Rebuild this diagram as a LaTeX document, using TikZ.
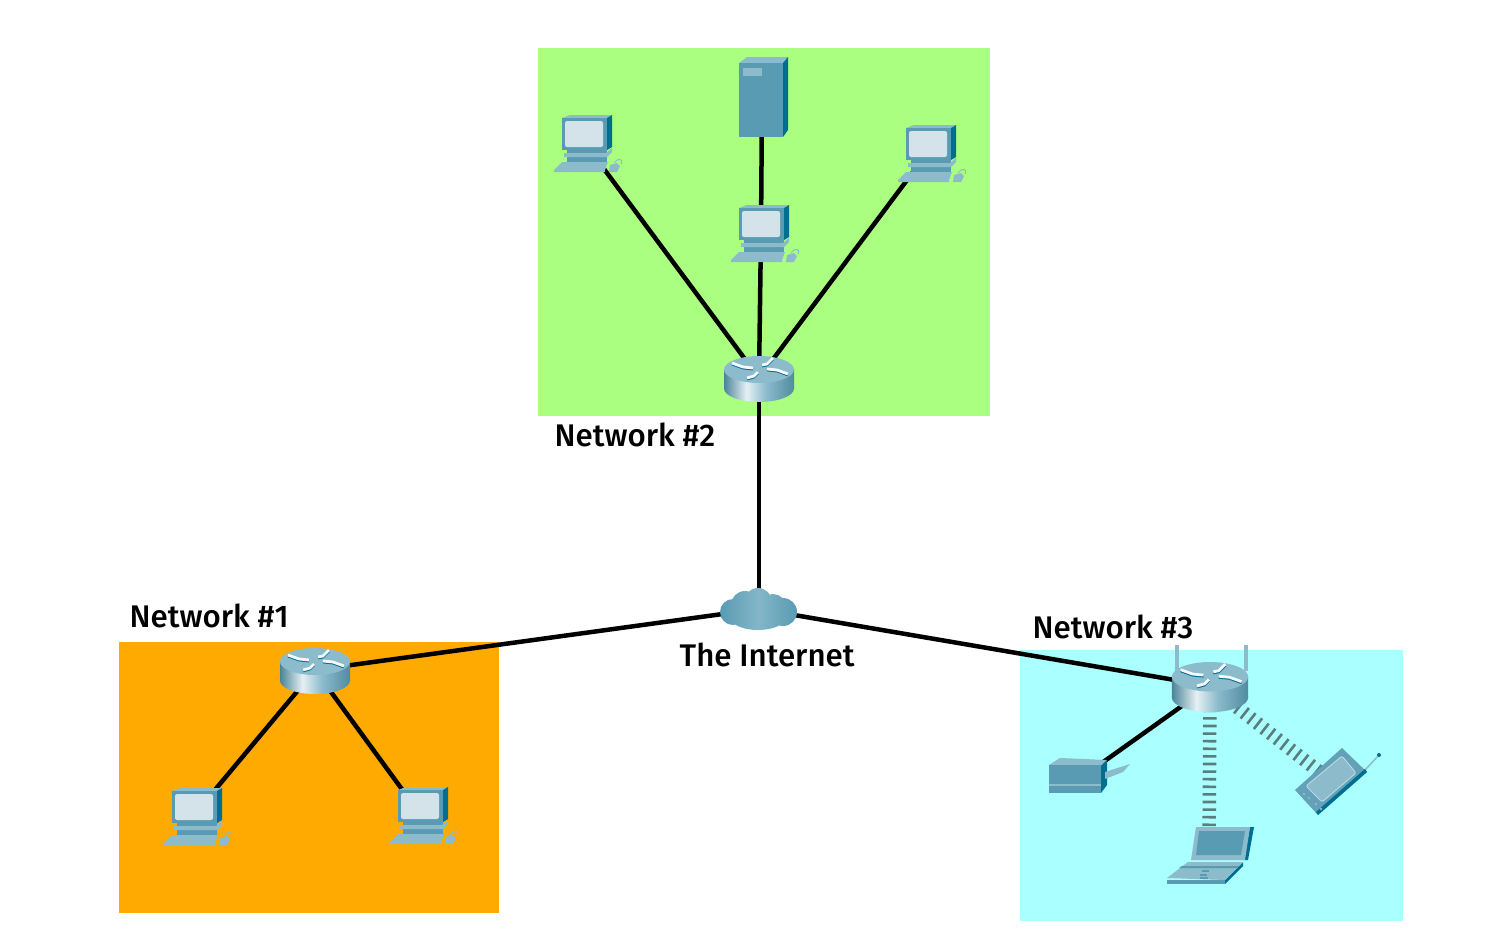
\documentclass[tikz,border=0pt]{standalone}
\usepackage{fontspec}
\setmainfont{Fira Sans}[BoldFont={Fira Sans Medium}]
\usepackage{xcolor}
\usetikzlibrary{positioning}
\definecolor{netgreen}{RGB}{170,255,128}
\definecolor{netorange}{RGB}{255,170,0}
\definecolor{netcyan}{RGB}{170,255,255}
\definecolor{devface}{RGB}{88,155,178}
\definecolor{devdark}{RGB}{0,110,145}
\definecolor{devlight}{RGB}{140,187,204}
\definecolor{devscreen}{RGB}{212,227,234}
\definecolor{radiogray}{RGB}{90,125,125}
\pgfdeclarehorizontalshading{routerside}{100bp}{color(0bp)=(devface); color(25bp)=(devface!85!black); color(41bp)=(white!85!devface); color(55bp)=(devlight); color(75bp)=(devface!90!black); color(100bp)=(devface)}
\pgfdeclarehorizontalshading{cloudside}{100bp}{color(0bp)=(devface); color(25bp)=(devface); color(50bp)=(devlight!85!devface); color(75bp)=(devface); color(100bp)=(devface)}
\tikzset{
  pcicon/.pic={
    \fill[devface] (-17,8) rectangle (23,21);
    \fill[devlight] (-22,-24) -- (-14,-27) -- (28,-27) -- (23,-24) -- cycle;
    \fill[devdark] (23,-24) -- (28,-27) -- (28,5) -- (23,8) -- cycle;
    \fill[devface] (-22,-24) rectangle (23,8);
    \fill[devscreen, rounded corners=0.6] (-19,-21) rectangle (19,5);
    \fill[devlight] (-20,11) -- (22,11) -- (28,6) -- (28,10) -- (23,15) -- (-20,15) -- cycle;
    \fill[devlight] (-22,20) -- (24,20) -- (21,28) -- (21,30) -- (-30,30) -- (-30,28) -- cycle;
    \fill[devlight] (26,23) -- (33,21) -- (36,24) -- (33,30) -- (25,30) -- cycle;
    \draw[devlight, line width=0.1mm] (30,21) .. controls (33,16) and (40,16) .. (37,22);
  },
  servericon/.pic={
    \fill[devlight] (-23,-37) -- (-15,-43) -- (26,-43) -- (21,-37) -- cycle;
    \fill[devdark] (21,-37) -- (26,-43) -- (26,30) -- (21,37) -- cycle;
    \fill[devface] (-23,-37) rectangle (21,37);
    \fill[devlight] (-19,-32) rectangle (0,-24);
  },
  routericon/.pic={
    \shade[shading=routerside] (-35,-8.5) rectangle (35,10.5);
    \shade[shading=routerside] (0,10.5) ellipse [x radius=35, y radius=13.5];
    \fill[devlight] (0,-8.5) ellipse [x radius=35, y radius=13.5];
    \foreach \ax/\ay/\mx/\my/\bx/\by in {-27/-15/-16/-11/-6/-10, 3/-13/8/-14/14/-20, 8/-9/18/-8/29/-4, -1/-6/-5/-2/-12/0} {
      \draw[devdark, line width=0.28mm] (\ax,\ay+1) -- (\mx,\my+1) -- (\bx,\by+1);
      \draw[white!90!devlight, line width=0.28mm] (\ax,\ay) -- (\mx,\my) -- (\bx,\by);
    }
  },
  mastpair/.pic={
    \foreach \mx in {-33,36}
      \draw[devlight, line width=0.35mm] (\mx,-41) -- (\mx,-15);
  },
  cloudicon/.pic={
    \shade[shading=cloudside] (-26,3) circle (13) (-14,-4) circle (14) (-1,-7) circle (14)
      (14,-2) circle (13) (24,3) circle (14) (-1,8) ellipse [x radius=28, y radius=13];
  },
  switchicon/.pic={
    \fill[devlight] (-29,-15) -- (-18,-22) -- (29,-20) -- (23,-14) -- cycle;
    \fill[devdark] (23,-14) -- (29,-20) -- (29,5) -- (23,13) -- cycle;
    \fill[devface] (-29,-15) rectangle (23,13);
    \fill[devlight] (-29,4) rectangle (23,6);
    \fill[devlight] (27,-8) -- (52,-16) -- (45,-8) -- (27,-1) -- cycle;
  },
  laptopicon/.pic={
    \fill[devdark] (41,-29) -- (45,-29) -- (39,4) -- (35,4) -- cycle;
    \fill[devlight] (-13,-29) -- (41,-29) -- (36,4) -- (-18,4) -- cycle;
    \fill[devface] (-10,-25) -- (36,-25) -- (32,-1) -- (-13,-1) -- cycle;
    \fill[devdark] (16,24) -- (34,6) -- (34,10) -- (16,28) -- cycle;
    \fill[devlight] (-42,22) -- (-21,6) -- (34,6) -- (16,24) -- cycle;
    \fill[devface] (-42,24) rectangle (16,28);
    \fill[devface] (-27,10) -- (30,10) -- (28,12) -- (-30,12) -- cycle;
    \draw[devface, line width=0.15mm] (-7,15) -- (0,15) (-9,19) -- (-2,19) (-9,22) -- (-1,22);
  },
  phoneicon/.pic={
    \draw[devlight, line width=0.15mm] (34,-11) -- (48,-26);
    \fill[devdark] (48,-26) circle (2);
    \fill[devface!80!devlight] (-36,9) -- (11,-33) -- (36,-9) -- (-13,34) -- cycle;
    \fill[devdark] (-13,34) -- (36,-9) -- (34,-12) -- (-15,31) -- cycle;
    \fill[devlight, draw=devlight!60!white, line width=0.1mm, rounded corners=0.6]
      (-25,5) -- (11,-25) -- (25,-8) -- (-9,21) -- cycle;
    \foreach \dx/\dy in {-27/13,-22/17,-15/23,-10/28}
      \fill[devlight] (\dx,\dy) circle (1.3);
  }
}
\begin{document}
\begin{tikzpicture}[
  x=0.1mm, y=-0.1mm,
  every node/.style={font=\fontsize{8.9}{11}\selectfont\bfseries, text=black},
  netarea/.style={fill=#1, draw=none},
  devspot/.style={inner sep=0pt, minimum size=0pt},
  netlabel/.style={anchor=base west, inner sep=0pt},
  wire/.style={line width=0.45mm, black},
  radio/.style={line width=1.35mm, radiogray, dash pattern=on 0.26mm off #1}
]
\useasboundingbox (0,0) rectangle (1487,937);
% coloured network areas
\fill[netarea=netgreen]  (538,48) rectangle (990,416);
\fill[netarea=netorange] (119,642) rectangle (499,913);
\fill[netarea=netcyan]   (1020,650) rectangle (1403,921);
% devices
\node[devspot] (inet)   at (759,609) {};
\node[devspot] (router1) at (315,670) {};
\node[devspot] (router2) at (759,378) {};
\node[devspot] (router3) at (1210,686) {};
\node[devspot] (pca)    at (194,815) {};
\node[devspot] (pcb)    at (420,814) {};
\node[devspot] (pcc)    at (584,142) {};
\node[devspot] (pcd)    at (761,232) {};
\node[devspot] (pce)    at (928,152) {};
\node[devspot] (server) at (762,100) {};
\node[devspot] (switch) at (1078,780) {};
\node[devspot] (laptop) at (1209,856) {};
\node[devspot] (phone)  at (1331,781) {};
% labels
\node[netlabel] (lab1) at (129,627) {Network \#1};
\node[netlabel] (lab2) at (554,446) {Network \#2};
\node[netlabel] (lab3) at (1032,638) {Network \#3};
\node[netlabel] (labinet) at (679,666) {The Internet};
% links
\foreach \from/\to in {inet/router1, inet/router2, inet/router3, router1/pca, router1/pcb,
    router2/pcc, router2/pcd, router2/pce, pcd/server, router3/switch}
  \draw[wire] (\from) -- (\to);
\foreach \to/\gap in {laptop/0.5mm, phone/0.58mm}
  \draw[radio=\gap] (router3) -- (\to);
% icons go on top of the links
\foreach \p in {pca, pcb, pcc, pcd, pce}
  \pic at (\p) {pcicon};
\pic at (server) {servericon};
\pic at (inet) {cloudicon};
\pic at (router1) {routericon};
\pic at (router2) {routericon};
\pic at (router3) {mastpair};
\pic[scale=1.09] at (router3) {routericon};
\pic at (switch) {switchicon};
\pic at (laptop) {laptopicon};
\pic at (phone) {phoneicon};
\end{tikzpicture}
\end{document}
